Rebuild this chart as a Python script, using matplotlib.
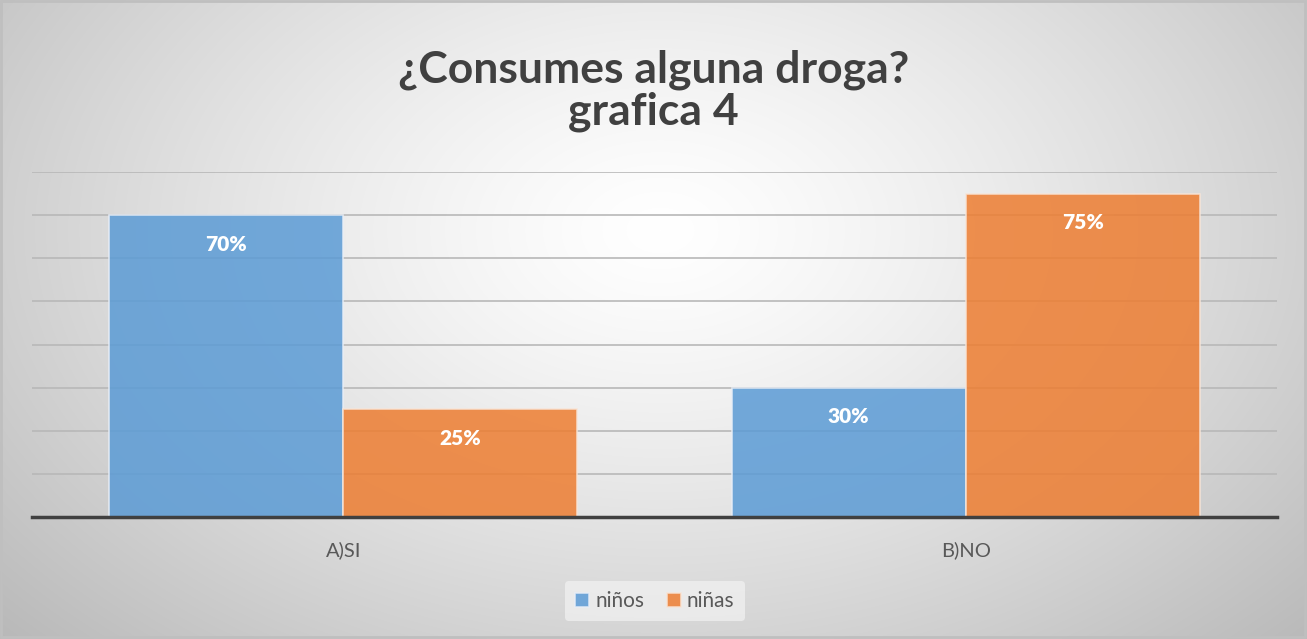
import numpy as np
import matplotlib
matplotlib.use("Agg")
import matplotlib.pyplot as plt
from matplotlib.patches import Rectangle

categories = ["A)SI", "B)NO"]
series_names = ["niños", "niñas"]
ninos = [0.70, 0.30]
ninas = [0.25, 0.75]
labels_ninos = ["70%", "30%"]
labels_ninas = ["25%", "75%"]
title_lines = ["¿Consumes alguna droga?", "grafica 4"]

W, H = 1307, 639
fig = plt.figure(figsize=(W / 100, H / 100), dpi=100)
plt.rcParams['font.family'] = ['Lato', 'DejaVu Sans']

# background radial gradient
bg = fig.add_axes([0, 0, 1, 1], zorder=0)
yy, xx = np.mgrid[0:H, 0:W]
cx, cy = 660, 230
r = np.sqrt(((xx - cx) / 780.0) ** 2 + ((yy - cy) / 520.0) ** 2)
v = 1.0 - 0.23 * np.clip(r, 0, 1.2) ** 1.3
img = np.dstack([v, v, v])
bg.imshow(img, extent=[0, W, H, 0], aspect='auto', interpolation='bilinear')
bg.set_xlim(0, W); bg.set_ylim(H, 0)
bg.axis('off')
bg.add_patch(Rectangle((1, 1), W - 3, H - 3, fill=False, edgecolor='#bfbfbf', lw=2))

ax = fig.add_axes([32 / W, 122 / H, (1277 - 32) / W, (517 - 172) / H], zorder=1)
ax.patch.set_alpha(0)
x = np.arange(len(categories))
w = 0.376
blue = '#5b9bd5'
orange = '#ed7d31'
b1 = ax.bar(x - w / 2, ninos, w, color=blue, alpha=0.85, edgecolor='#e8eef7', lw=1.2, zorder=3, label=series_names[0])
b2 = ax.bar(x + w / 2, ninas, w, color=orange, alpha=0.85, edgecolor='#f8e4d6', lw=1.2, zorder=3, label=series_names[1])
for bars, labs in ((b1, labels_ninos), (b2, labels_ninas)):
    for rect, lab in zip(bars, labs):
        ax.annotate(lab, (rect.get_x() + rect.get_width() / 2, rect.get_height()),
                    xytext=(0, -29), textcoords='offset pixels',
                    ha='center', va='center', color='white', fontweight='heavy', fontsize=15, zorder=5)

ax.set_xlim(-0.5, 1.5)
ax.set_ylim(0, 0.8)
ax.set_yticks(np.arange(0.1, 0.81, 0.1))
ax.yaxis.grid(True, color='#b8b8b8', lw=1.2, zorder=0)
ax.set_axisbelow(True)
ax.tick_params(axis='y', left=False, labelleft=False)
ax.tick_params(axis='x', bottom=False, pad=14)
ax.set_xticks(x)
ax.set_xticklabels(categories, fontsize=14.5, color='#595959')
for s in ['top', 'right', 'left']:
    ax.spines[s].set_visible(False)
ax.spines['bottom'].set_color('#404040')
ax.spines['bottom'].set_linewidth(2.5)
ax.spines['bottom'].set_zorder(6)

fig.text(0.5, 1 - 70 / H, title_lines[0], ha='center', va='center', fontsize=32, fontweight='bold',
         color='#404040')
fig.text(0.5, 1 - 112 / H, title_lines[1], ha='center', va='center', fontsize=32, fontweight='bold',
         color='#404040')

leg = fig.legend(handles=[b1, b2], labels=series_names, loc='center', bbox_to_anchor=(655 / W, 1 - 601 / H),
                 ncol=2, frameon=True, fontsize=15, handlelength=0.65, handleheight=0.65,
                 handletextpad=0.3, columnspacing=1.1, borderpad=0.5)
leg.get_frame().set_facecolor('#f7f7f7')
leg.get_frame().set_edgecolor('none')
leg.get_frame().set_alpha(0.6)
for t in leg.get_texts():
    t.set_color('#595959')

fig.savefig('out.png', dpi=100)
